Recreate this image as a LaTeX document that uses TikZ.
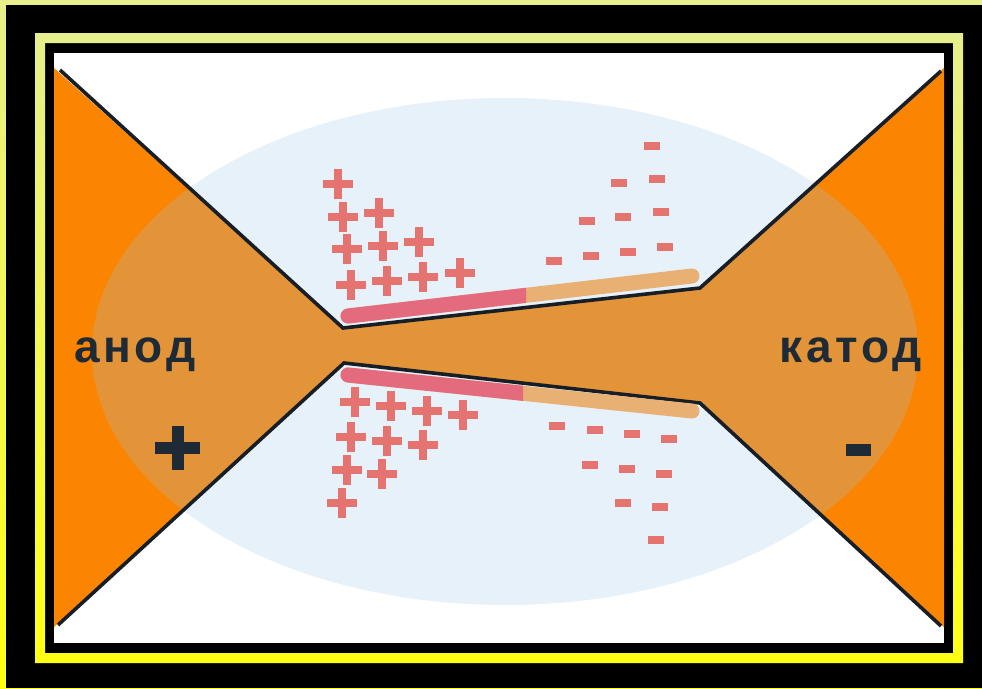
\documentclass[tikz,border=0pt]{standalone}
\usepackage{fontspec}
\setmainfont{Liberation Sans}
\newfontfamily\labelfont[LetterSpace=8]{Liberation Sans Bold}
\definecolor{frameTop}{RGB}{230,239,140}
\definecolor{frameBot}{RGB}{255,255,20}
\definecolor{metal}{RGB}{251,133,0}
\definecolor{glow}{RGB}{151,197,238}
\definecolor{edge}{RGB}{24,30,38}
\definecolor{ink}{RGB}{30,43,55}
\definecolor{charge}{RGB}{229,115,112}
\definecolor{hot}{RGB}{228,106,126}
\definecolor{warm}{RGB}{232,176,114}
\tikzset{
  chargeplus/.pic={\fill[charge] (-15,-4) rectangle (15,4); \fill[charge] (-4,-15) rectangle (4,15);},
  chargeminus/.pic={\fill[charge] (-8,-3.8) rectangle (8,3.8);},
  edgeline/.style={draw=edge, line width=3.6pt, line join=miter},
  barline/.style={line width=15pt, line cap=round},
  labeltext/.style={inner sep=0, text=ink, font=\labelfont\fontsize{46}{46}\selectfont},
}
\begin{document}
\begin{tikzpicture}[x=1pt,y=-1pt]
\useasboundingbox (0,0) rectangle (982,688);
% background and yellow frames
\shade[top color=frameTop, bottom color=frameBot] (0,0) rectangle (982,688);
\fill[black] (6,5) rectangle (982,688);
\shade[top color=frameTop, bottom color=frameBot, even odd rule]
  (35,33) rectangle (963,663) (45,43) rectangle (953,653);
\fill[white] (54,53) rectangle (944,643);
% electrode body
\fill[metal] (54,68) -- (343,328) -- (700,288) -- (944,68) -- (944,627)
  -- (700,403) -- (344,363) -- (54,627) -- cycle;
% discharge region
\fill[glow, fill opacity=0.24] (505,351.5) ellipse [x radius=413, y radius=253.5];
% electrode edges
\draw[edgeline] (60,70) -- (343,328) -- (700,288) -- (941,71);
\draw[edgeline] (58,625) -- (344,363) -- (700,403) -- (941,626);
% charged layers
\coordinate (ua) at (348,316); \coordinate (ub) at (692,276);
\coordinate (la) at (348,375); \coordinate (lb) at (692,411);
\draw[barline, warm] (ua) -- (ub);
\draw[barline, warm] (la) -- (lb);
\begin{scope}
  \clip (300,250) rectangle (526,340);
  \draw[barline, hot] (ua) -- (ub);
\end{scope}
\begin{scope}
  \clip (300,350) rectangle (523,440);
  \draw[barline, hot] (la) -- (lb);
\end{scope}
% positive charges
\foreach \x/\y in {338/184, 343/217, 379/213, 347/249, 383/246, 419/242,
                   351/285, 387/281, 423/277, 460/273,
                   355/402, 391/406, 427/411, 463/415, 351/437, 387/441,
                   423/445, 347/470, 382/474, 342/503}
  \pic at (\x,\y) {chargeplus};
% negative charges
\foreach \x/\y in {652/146, 619/183, 657/179, 587/221, 623/217, 661/212,
                   554/261, 591/256, 628/252, 665/247,
                   557/426, 595/430, 632/434, 669/439, 590/465, 627/469,
                   664/474, 623/503, 660/507, 656/540}
  \pic at (\x,\y) {chargeminus};
% labels and polarity
\node[labeltext, anchor=base west] (anode) at (74,362) {анод};
\node[labeltext, anchor=base east] (cathode) at (922,362) {катод};
\fill[ink] (155,442) rectangle (200,454);
\fill[ink] (171.5,426) rectangle (183.5,470);
\fill[ink] (846,444) rectangle (871,456);
\end{tikzpicture}
\end{document}
